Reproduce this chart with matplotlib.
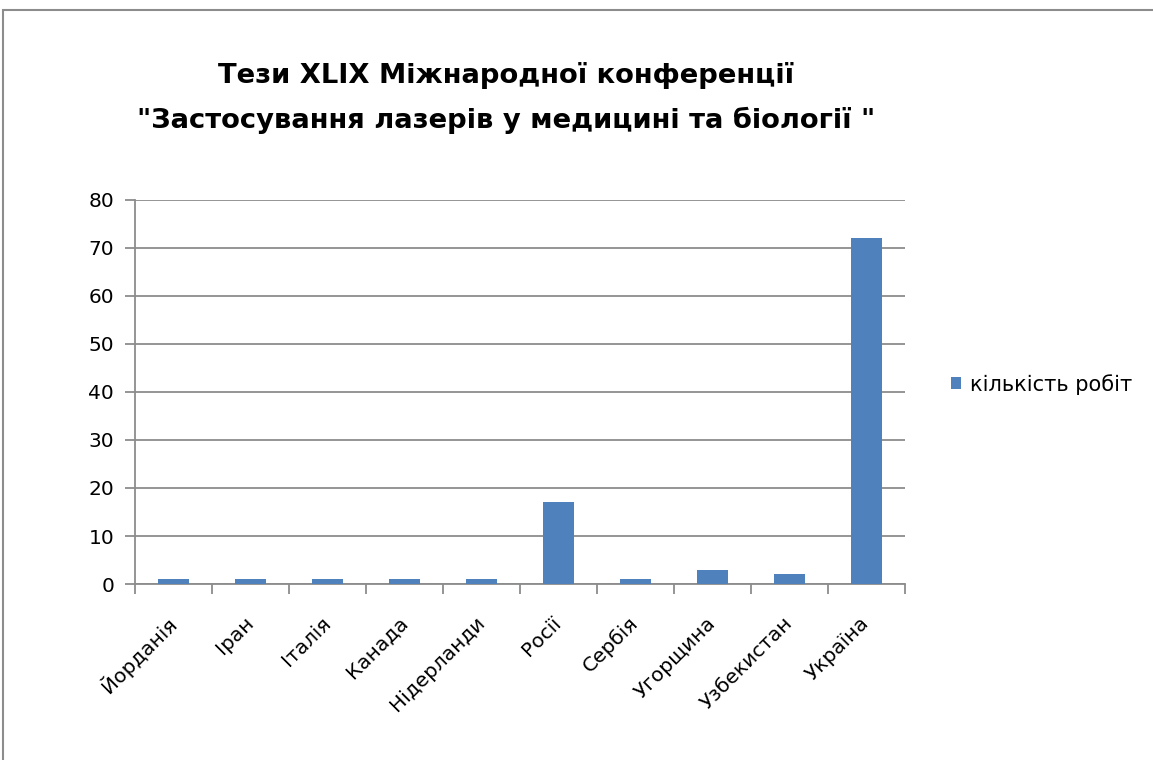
import matplotlib.pyplot as plt
from matplotlib.patches import Rectangle

plt.rcParams['font.family'] = ['DejaVu Sans']

countries = ["Йорданія", "Іран", "Італія", "Канада", "Нідерланди",
             "Росії", "Сербія", "Угорщина", "Узбекистан", "Україна"]
counts = [1, 1, 1, 1, 1, 17, 1, 3, 2, 72]
series_name = "кількість робіт"
title = "Тези XLIX Міжнародної конференції\n\"Застосування лазерів у медицині та біології \""

W, H = 1153, 760
fig = plt.figure(figsize=(W / 100, H / 100), dpi=100)
fig.patches.append(Rectangle((3 / W, -0.05), 1.1, 1 - 10 / H + 0.05,
                             transform=fig.transFigure, fill=False,
                             edgecolor="#8c8c8c", linewidth=1.5))

ax = fig.add_axes([135 / W, 1 - 584 / H, 770 / W, 384 / H])
x = range(len(countries))
ax.bar(x, counts, width=0.4, color="#4f81bd", label=series_name, zorder=3)

ax.set_xlim(-0.5, len(countries) - 0.5)
ax.set_ylim(0, 80)
ax.set_yticks(range(0, 81, 10))
ax.yaxis.grid(True, color="#8c8c8c", linewidth=1.3, zorder=0)
ax.set_xticks([i - 0.5 for i in range(len(countries) + 1)], minor=False)
ax.set_xticklabels([""] * (len(countries) + 1))
ax.set_xticks(list(x), minor=True)
ax.set_xticklabels(countries, minor=True, rotation=45, ha="right", va="center",
                   rotation_mode="anchor", fontsize=14.5)
ax.tick_params(axis="x", which="minor", length=0, pad=26)
ax.tick_params(axis="x", which="major", length=7, width=1.3, color="#8c8c8c", direction="out")
ax.tick_params(axis="y", length=7, width=1.3, color="#8c8c8c", labelsize=14.5, pad=8)
for s in ["top", "right"]:
    ax.spines[s].set_visible(False)
for s in ["left", "bottom"]:
    ax.spines[s].set_color("#8c8c8c")
    ax.spines[s].set_linewidth(1.3)

fig.text(506 / W, 1 - 98 / H, title, ha="center", va="center",
         fontsize=19.7, fontweight="bold", linespacing=1.85)

ax.legend(loc="center left", bbox_to_anchor=(1.035, 0.52), frameon=False,
          fontsize=15, handlelength=0.5, handleheight=0.5, handletextpad=0.45)

fig.savefig("out.png", dpi=100)
